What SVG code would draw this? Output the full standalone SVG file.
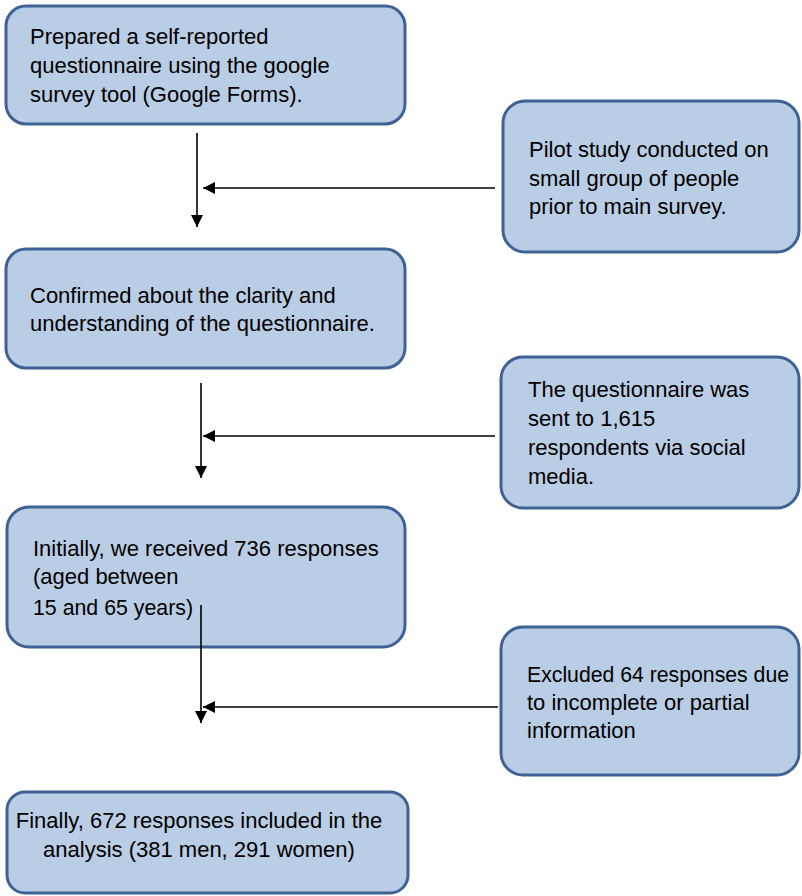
<svg xmlns="http://www.w3.org/2000/svg" width="802" height="896" viewBox="0 0 802 896">
<style>
.box{fill:#b9cde5;stroke:#3f6294;stroke-width:3}
.t{font-family:"Liberation Sans",Arial,sans-serif;font-size:22px;fill:#000}
.c{stroke:#000;stroke-width:1.6;fill:none}
</style>
<defs>
<marker id="ah" viewBox="0 0 12 12" refX="12" refY="6" markerWidth="12" markerHeight="12" orient="auto" markerUnits="userSpaceOnUse">
<path d="M0,0 L12,6 L0,12 z" fill="#000"/>
</marker>
</defs>
<rect width="802" height="896" fill="#fff"/>
<g id="n1">
<rect class="box" x="6" y="6" width="399" height="118" rx="20"/>
<text class="t" x="30" y="44">Prepared a self-reported</text>
<text class="t" x="30" y="73">questionnaire using the google</text>
<text class="t" x="30" y="102">survey tool (Google Forms).</text>
</g>
<g id="n2">
<rect class="box" x="503" y="101" width="296" height="151" rx="22"/>
<text class="t" x="529" y="157">Pilot study conducted on</text>
<text class="t" x="529" y="186">small group of people</text>
<text class="t" x="529" y="214">prior to main survey.</text>
</g>
<g id="n3">
<rect class="box" x="6" y="249" width="399" height="119" rx="20"/>
<text class="t" x="30" y="303">Confirmed about the clarity and</text>
<text class="t" x="30" y="331">understanding of the questionnaire.</text>
</g>
<g id="n4">
<rect class="box" x="501" y="357" width="298" height="151" rx="22"/>
<text class="t" x="528" y="397">The questionnaire was</text>
<text class="t" x="528" y="426">sent to 1,615</text>
<text class="t" x="528" y="455">respondents via social</text>
<text class="t" x="528" y="484">media.</text>
</g>
<g id="n5">
<rect class="box" x="7" y="507" width="398" height="140" rx="22"/>
<text class="t" x="33" y="556">Initially, we received 736 responses</text>
<text class="t" x="33" y="584">(aged between</text>
<text class="t" x="33" y="615" textLength="160" lengthAdjust="spacingAndGlyphs">15 and 65 years)</text>
</g>
<g id="n6">
<rect class="box" x="501" y="627" width="298" height="148" rx="22"/>
<text class="t" x="527" y="682" textLength="262" lengthAdjust="spacingAndGlyphs">Excluded 64 responses due</text>
<text class="t" x="527" y="710">to incomplete or partial</text>
<text class="t" x="527" y="738">information</text>
</g>
<g id="n7">
<rect class="box" x="7" y="792" width="401" height="101" rx="18"/>
<text class="t" x="199" y="828" text-anchor="middle">Finally, 672 responses included in the</text>
<text class="t" x="199" y="857" text-anchor="middle">analysis (381 men, 291 women)</text>
</g>
<g id="connectors">
<line class="c" x1="197" y1="133" x2="197" y2="227" marker-end="url(#ah)"/>
<line class="c" x1="495" y1="188" x2="203" y2="188" marker-end="url(#ah)"/>
<line class="c" x1="201" y1="383" x2="201" y2="478" marker-end="url(#ah)"/>
<line class="c" x1="495" y1="436" x2="203" y2="436" marker-end="url(#ah)"/>
<line class="c" x1="201" y1="605" x2="201" y2="723" marker-end="url(#ah)"/>
<line class="c" x1="498" y1="707" x2="203" y2="707" marker-end="url(#ah)"/>
</g>
</svg>
